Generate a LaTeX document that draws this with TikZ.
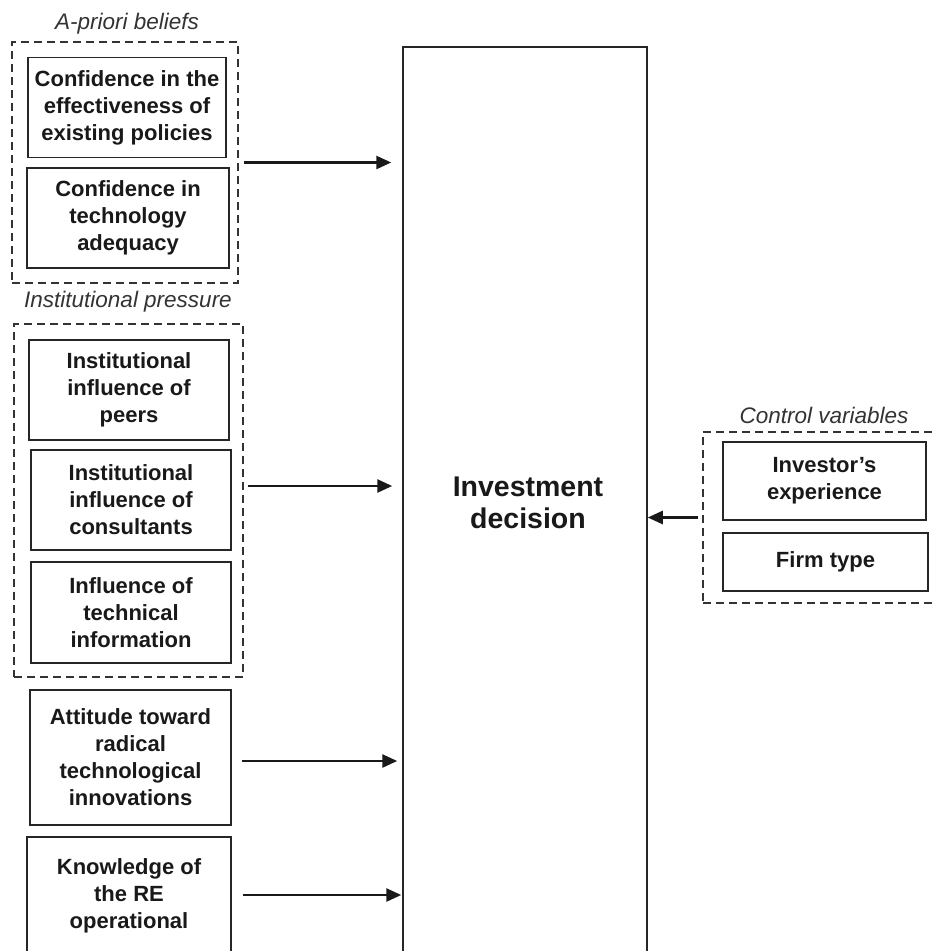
\documentclass[tikz,border=0pt]{standalone}
\usepackage{fontspec}
\setmainfont{Liberation Sans}
\usetikzlibrary{arrows.meta,calc}
\tikzset{
  box/.style={draw=black!85, line width=1.5pt, align=center, inner sep=0pt,
    text=black!90, font=\bfseries\fontsize{22}{27}\selectfont},
  group/.style={draw=black!80, line width=1.3pt, dash pattern=on 8pt off 5pt, inner sep=0pt},
  grouplabel/.style={font=\itshape\fontsize{22.5}{26}\selectfont, text=black!80, inner sep=0pt},
  mainbox/.style={draw=black!85, line width=1.5pt, align=center, inner sep=0pt,
    text=black!90, font=\bfseries\fontsize{28.5}{32}\selectfont},
  arr/.style={line width=2.6pt, black!90, -{Triangle[length=15pt,width=13pt]}}
}
\begin{document}
\begin{tikzpicture}[x=1pt,y=-1pt]
\useasboundingbox (0,0) rectangle (932,951);
\clip (0,0) rectangle (932,951);
% groups
\node[group, minimum width=226pt, minimum height=241pt] (g1) at (125,162.5) {};
\node[group, minimum width=229pt, minimum height=353pt] (g2) at (128.5,500.5) {};
\node[group, minimum width=250pt, minimum height=171pt] (g3) at (828,517.5) {};
\node[grouplabel] (l1) at (127,24) {A-priori beliefs};
\node[grouplabel] (l2) at (128,302) {Institutional pressure};
\node[grouplabel] (l3) at (824,415) {Control variables};
% boxes
\node[box, minimum width=198pt, minimum height=100pt] (b1) at (127,107.5) {Confidence in the\\effectiveness of\\existing policies};
\node[box, minimum width=202pt, minimum height=100pt] (b2) at (128,218) {Confidence in\\technology\\adequacy};
\node[box, minimum width=200pt, minimum height=100pt] (b3) at (129,390) {Institutional\\influence of\\peers};
\node[box, minimum width=200pt, minimum height=100pt] (b4) at (131,500) {Institutional\\influence of\\consultants};
\node[box, minimum width=200pt, minimum height=101pt] (b5) at (131,612.5) {Influence of\\technical\\information};
\node[box, minimum width=201pt, minimum height=135pt] (b6) at (130.5,757.5) {Attitude toward\\radical\\technological\\innovations};
\node[box, minimum width=204pt, minimum height=118pt] (b7) at (129,896) {Knowledge of\\the RE\\operational};
\node[box, minimum width=203pt, minimum height=78pt] (c1) at (824.5,481) {Investor's\\experience};
\node[box, minimum width=205pt, minimum height=58pt] (c2) at (825.5,562) {Firm type};
% main
\node[mainbox, minimum width=244pt, minimum height=913pt] (main) at (525,503.5) {};
\node[mainbox, draw=none] (mt) at (528,503) {Investment\\decision};
% arrows
\draw[arr] ($(g1.east)+(5,0)$) -- ($(main.west |- g1.east)+(-11,0)$);
\draw[arr] ($(g2.east)+(4,-14.5)$) -- ($(main.west |- g2.east)+(-10,-14.5)$);
\draw[arr] ($(b6.east)+(10,3.5)$) -- ($(main.west |- b6.east)+(-5,3.5)$);
\draw[arr] ($(b7.east)+(11,-1)$) -- ($(main.west |- b7.east)+(-1,-1)$);
\draw[arr] ($(g3.west)+(-4,0)$) -- (main.east |- g3.west);
\end{tikzpicture}
\end{document}
